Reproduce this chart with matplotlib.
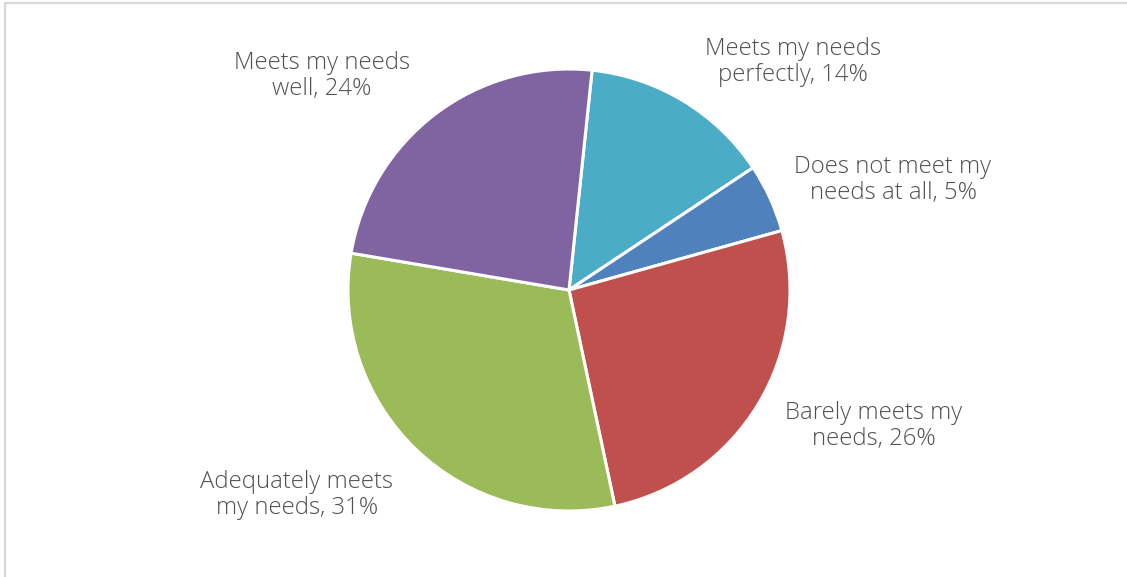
import matplotlib
matplotlib.use("Agg")
import matplotlib.pyplot as plt
from matplotlib.patches import Rectangle

# Data
categories = [
    "Meets my needs\nperfectly",
    "Does not meet my\nneeds at all",
    "Barely meets my\nneeds",
    "Adequately meets\nmy needs",
    "Meets my needs\nwell",
]
values = [14, 5, 26, 31, 24]
colors = ["#4BACC6", "#4F81BD", "#C0504D", "#9BBB59", "#8064A2"]

# label centres in pixel coordinates (x, y from top)
label_pos = [(793, 62), (893, 180), (874, 426), (297, 495), (322, 76)]

W, H = 1127, 577
fig = plt.figure(figsize=(W / 100, H / 100), dpi=100)
ax = fig.add_axes([0, 0, 1, 1])
ax.set_xlim(0, W)
ax.set_ylim(0, H)
ax.set_aspect("equal")
ax.axis("off")

# frame
ax.add_patch(Rectangle((5, -5), W, H - 3 + 5, fill=False, edgecolor="#d9d9d9", linewidth=1.6))

cx, cy, r = 569, H - 290, 221
ax.pie(values, colors=colors, startangle=84, counterclock=False,
       center=(cx, cy), radius=r, frame=True,
       wedgeprops=dict(edgecolor="white", linewidth=2.2))
ax.set_xlim(0, W)
ax.set_ylim(0, H)
ax.axis("off")

for cat, v, (lx, ly) in zip(categories, values, label_pos):
    ax.text(lx, H - ly, f"{cat}, {v}%", ha="center", va="center",
            fontsize=17.2, color="#505050", family="Open Sans", weight="light",
            linespacing=1.13)

fig.savefig("out.png", dpi=100)
